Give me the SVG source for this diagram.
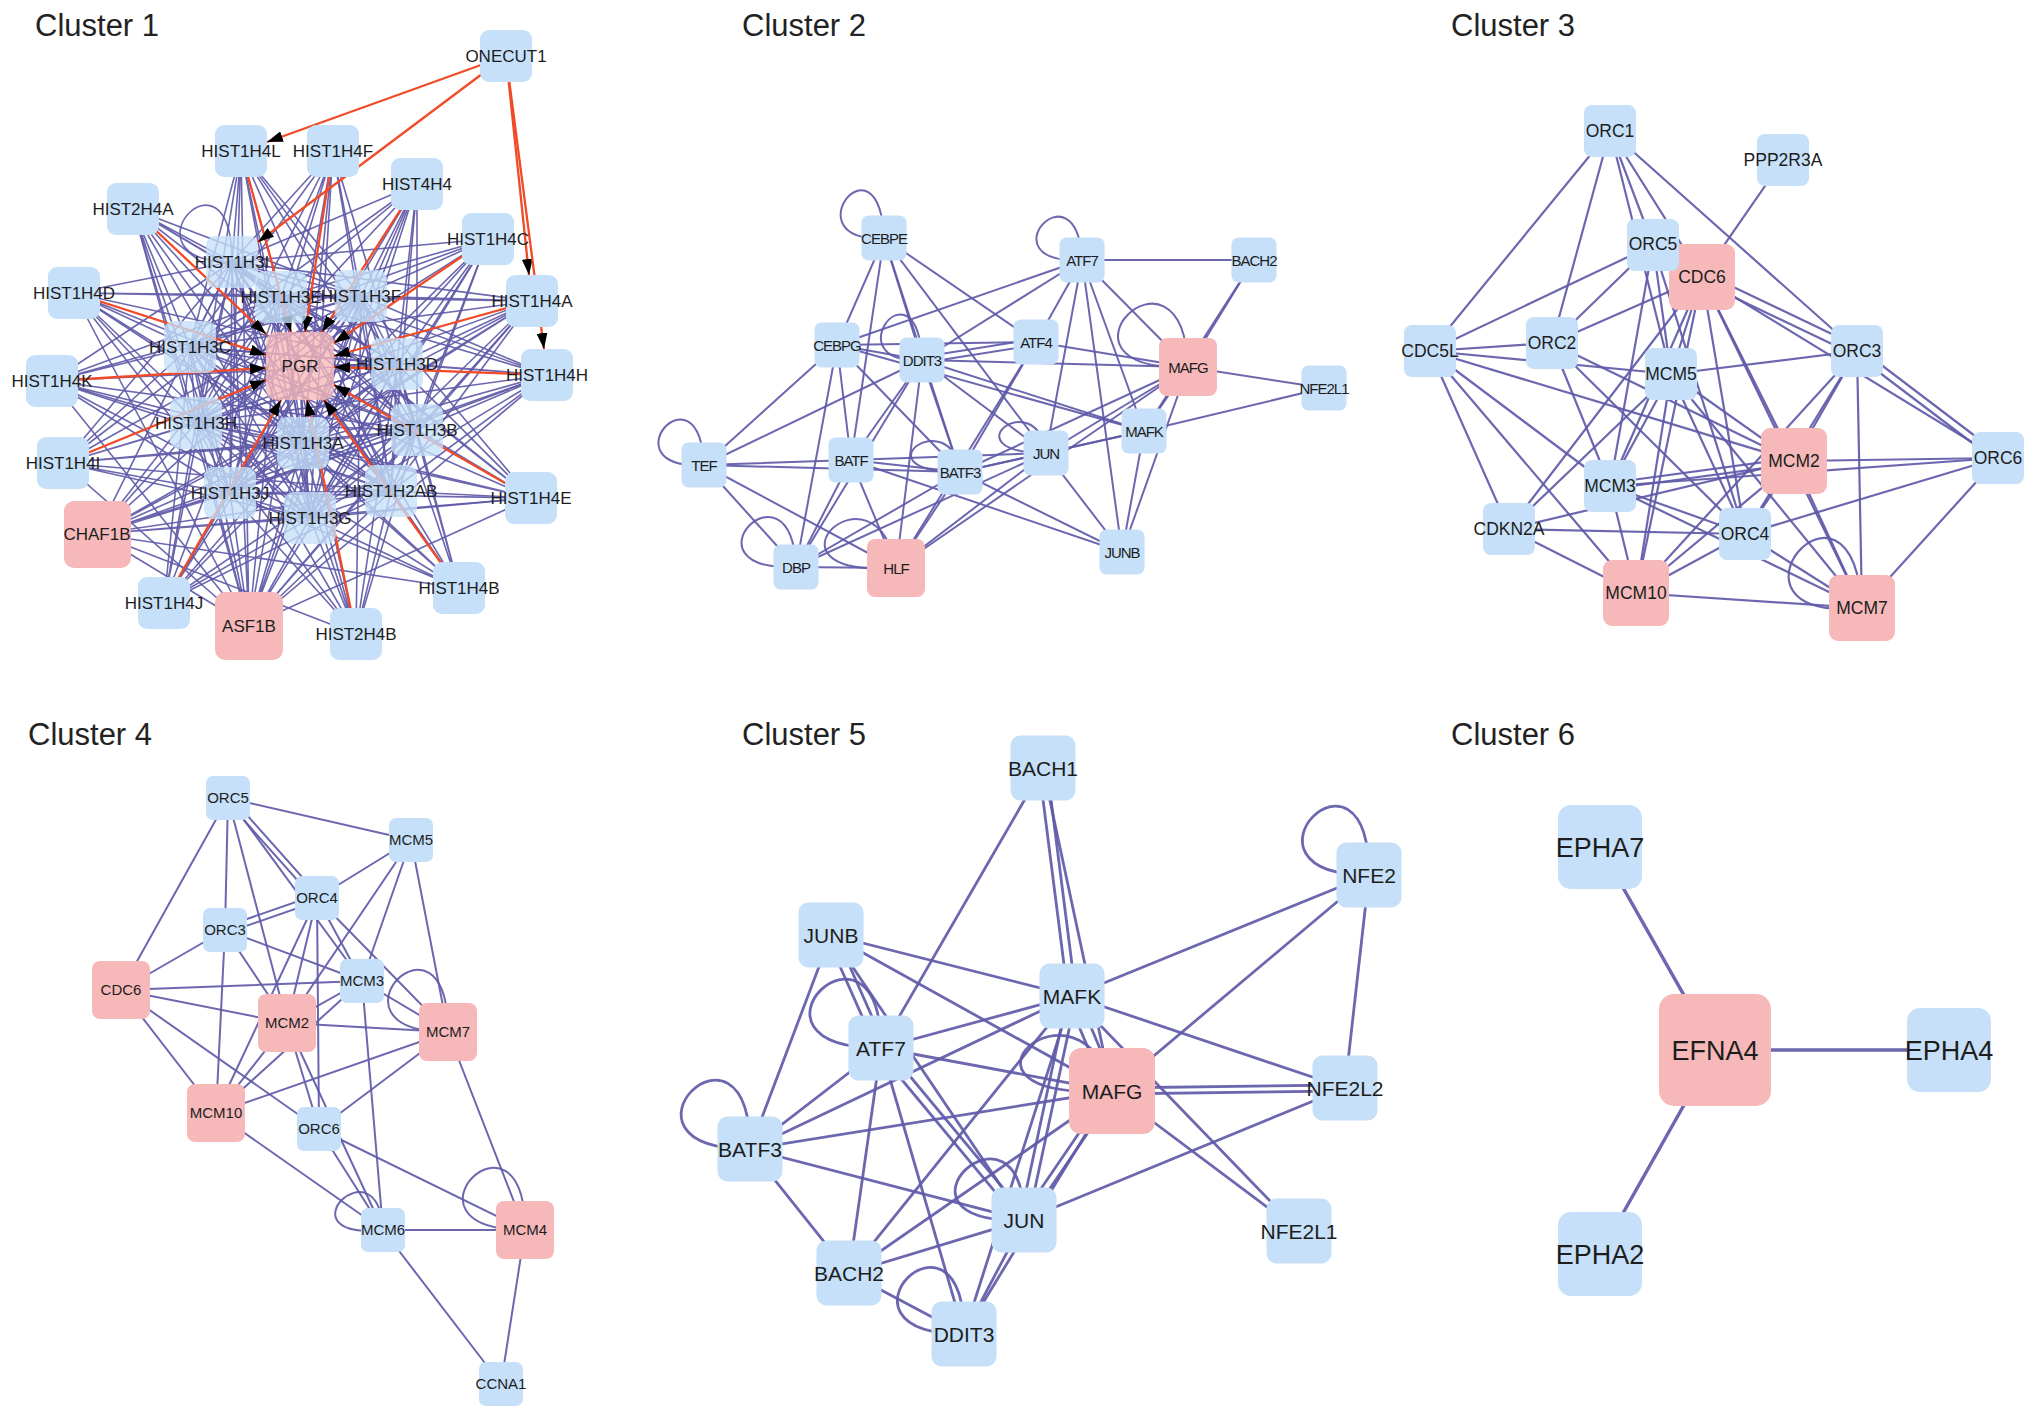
<svg xmlns="http://www.w3.org/2000/svg" width="2032" height="1419" viewBox="0 0 2032 1419">
<style>
text{font-family:"Liberation Sans",Arial,sans-serif;fill:#1d1d1d;text-anchor:middle}
.title{font-size:31px;text-anchor:start;fill:#222}
.b{fill:#c5e0f8}.r{fill:#f6b8b9}.t{fill-opacity:.78}
.e line,.e path{stroke:#5f5aa8;stroke-opacity:.92;fill:none;stroke-linecap:round}
.e1 path,.e1 line{stroke-width:1.6}
.e2 line,.e2 path{stroke-width:2}
.e3 line,.e3 path{stroke-width:2.2}
.e4 line,.e4 path{stroke-width:2}
.e5 line,.e5 path{stroke-width:2.8}
.e6 line{stroke-width:3.5}
.e line.red{stroke:#f24a26;stroke-width:2.3;stroke-opacity:1}
.l1{font-size:17px}.l2{font-size:15px;letter-spacing:-1px}.l3{font-size:17.5px}.l4{font-size:15px}.l5{font-size:21px}.l6{font-size:27px}
</style>
<defs>
<marker id="ah" viewBox="0 0 16 11" markerWidth="16" markerHeight="11" refX="16" refY="5.5" orient="auto" markerUnits="userSpaceOnUse"><path d="M0,0L16,5.5L0,11z" fill="#000"/></marker>
</defs>
<rect width="2032" height="1419" fill="#fff"/>
<g id="titles">
<text class="title" x="35" y="36">Cluster 1</text>
<text class="title" x="742" y="36">Cluster 2</text>
<text class="title" x="1451" y="36">Cluster 3</text>
<text class="title" x="28" y="745">Cluster 4</text>
<text class="title" x="742" y="745">Cluster 5</text>
<text class="title" x="1451" y="745">Cluster 6</text>
</g>
<g id="connectors" class="e">
<g id="c1-edges" class="e1">
<path d="M232 262L281 297M232 262L361 296M232 262L190 347M232 262L397 364M232 262L196 423M232 262L417 430M232 262L303 443M232 262L230 493M232 262L310 518M281 297L361 296M281 297L190 347M281 297L397 364M281 297L196 423M281 297L417 430M281 297L303 443M281 297L230 493M281 297L310 518M361 296L190 347M361 296L397 364M361 296L196 423M361 296L417 430M361 296L303 443M361 296L230 493M361 296L310 518M190 347L397 364M190 347L196 423M190 347L417 430M190 347L303 443M190 347L230 493M190 347L310 518M397 364L196 423M397 364L417 430M397 364L303 443M397 364L230 493M397 364L310 518M196 423L417 430M196 423L303 443M196 423L230 493M196 423L310 518M417 430L303 443M417 430L230 493M417 430L310 518M303 443L230 493M303 443L310 518M230 493L310 518"/>
<path d="M241 151L232 262M241 151L281 297M241 151L361 296M241 151L190 347M241 151L397 364M241 151L196 423M241 151L417 430M241 151L303 443M241 151L230 493M241 151L310 518"/>
<path d="M333 151L232 262M333 151L281 297M333 151L361 296M333 151L190 347M333 151L397 364M333 151L196 423M333 151L417 430M333 151L303 443M333 151L230 493M333 151L310 518"/>
<path d="M133 209L232 262M133 209L281 297M133 209L361 296M133 209L190 347M133 209L397 364M133 209L196 423M133 209L417 430M133 209L303 443M133 209L230 493M133 209L310 518"/>
<path d="M417 184L232 262M417 184L281 297M417 184L361 296M417 184L190 347M417 184L397 364M417 184L196 423M417 184L417 430M417 184L303 443M417 184L230 493M417 184L310 518"/>
<path d="M488 239L232 262M488 239L281 297M488 239L361 296M488 239L190 347M488 239L397 364M488 239L196 423M488 239L417 430M488 239L303 443M488 239L230 493M488 239L310 518"/>
<path d="M74 293L232 262M74 293L281 297M74 293L361 296M74 293L190 347M74 293L397 364M74 293L196 423M74 293L417 430M74 293L303 443M74 293L230 493M74 293L310 518"/>
<path d="M532 301L232 262M532 301L281 297M532 301L361 296M532 301L190 347M532 301L397 364M532 301L196 423M532 301L417 430M532 301L303 443M532 301L230 493M532 301L310 518"/>
<path d="M547 375L232 262M547 375L281 297M547 375L361 296M547 375L190 347M547 375L397 364M547 375L196 423M547 375L417 430M547 375L303 443M547 375L230 493M547 375L310 518"/>
<path d="M52 381L232 262M52 381L281 297M52 381L361 296M52 381L190 347M52 381L397 364M52 381L196 423M52 381L417 430M52 381L303 443M52 381L230 493M52 381L310 518"/>
<path d="M63 463L232 262M63 463L281 297M63 463L361 296M63 463L190 347M63 463L397 364M63 463L196 423M63 463L417 430M63 463L303 443M63 463L230 493M63 463L310 518"/>
<path d="M531 498L232 262M531 498L281 297M531 498L361 296M531 498L190 347M531 498L397 364M531 498L196 423M531 498L417 430M531 498L303 443M531 498L230 493M531 498L310 518"/>
<path d="M459 588L232 262M459 588L281 297M459 588L361 296M459 588L190 347M459 588L397 364M459 588L196 423M459 588L417 430M459 588L303 443M459 588L230 493M459 588L310 518"/>
<path d="M164 603L232 262M164 603L281 297M164 603L361 296M164 603L190 347M164 603L397 364M164 603L196 423M164 603L417 430M164 603L303 443M164 603L230 493M164 603L310 518"/>
<path d="M356 634L232 262M356 634L281 297M356 634L361 296M356 634L190 347M356 634L397 364M356 634L196 423M356 634L417 430M356 634L303 443M356 634L230 493M356 634L310 518"/>
<path d="M391 491L232 262M391 491L281 297M391 491L361 296M391 491L190 347M391 491L397 364M391 491L196 423M391 491L417 430M391 491L303 443M391 491L230 493M391 491L310 518M391 491L241 151M391 491L333 151M391 491L133 209M391 491L417 184M391 491L488 239M391 491L74 293M391 491L532 301M391 491L547 375M391 491L52 381M391 491L63 463M391 491L531 498M391 491L459 588M391 491L164 603M391 491L356 634"/>
<path d="M97 534L232 262M97 534L281 297M97 534L361 296M97 534L190 347M97 534L397 364M97 534L196 423M97 534L417 430M97 534L303 443M97 534L230 493M97 534L310 518M97 534L531 498M97 534L547 375M97 534L459 588M97 534L356 634M97 534L532 301M97 534L391 491M97 534L249 626"/>
<path d="M249 626L232 262M249 626L281 297M249 626L361 296M249 626L190 347M249 626L397 364M249 626L196 423M249 626L417 430M249 626L303 443M249 626L230 493M249 626L310 518M249 626L241 151M249 626L333 151M249 626L133 209M249 626L417 184M249 626L488 239M249 626L74 293M249 626L532 301M249 626L547 375M249 626L52 381M249 626L63 463M249 626L531 498M249 626L391 491"/>
<path d="M232 262c-117 0 0-128 0 0"/>
<line x1="232" y1="262" x2="278" y2="332"/>
<line x1="281" y1="297" x2="291" y2="332"/>
<line x1="361" y1="296" x2="330" y2="332"/>
<line x1="190" y1="347" x2="266" y2="360"/>
<line x1="397" y1="364" x2="334" y2="365"/>
<line x1="196" y1="423" x2="266" y2="385"/>
<line x1="417" y1="430" x2="334" y2="385"/>
<line x1="303" y1="443" x2="301" y2="400"/>
<line x1="230" y1="493" x2="281" y2="400"/>
<line x1="310" y1="518" x2="302" y2="400"/>
<line x1="391" y1="491" x2="325" y2="400"/>
<line class="red" x1="241" y1="151" x2="291" y2="332" marker-end="url(#ah)"/>
<line class="red" x1="333" y1="151" x2="305" y2="332" marker-end="url(#ah)"/>
<line class="red" x1="133" y1="209" x2="266" y2="334" marker-end="url(#ah)"/>
<line class="red" x1="417" y1="184" x2="322" y2="332" marker-end="url(#ah)"/>
<line class="red" x1="488" y1="239" x2="334" y2="343" marker-end="url(#ah)"/>
<line class="red" x1="74" y1="293" x2="266" y2="355" marker-end="url(#ah)"/>
<line class="red" x1="532" y1="301" x2="334" y2="356" marker-end="url(#ah)"/>
<line class="red" x1="547" y1="375" x2="334" y2="367" marker-end="url(#ah)"/>
<line class="red" x1="52" y1="381" x2="266" y2="368" marker-end="url(#ah)"/>
<line class="red" x1="63" y1="463" x2="266" y2="380" marker-end="url(#ah)"/>
<line class="red" x1="531" y1="498" x2="334" y2="385" marker-end="url(#ah)"/>
<line class="red" x1="459" y1="588" x2="324" y2="400" marker-end="url(#ah)"/>
<line class="red" x1="164" y1="603" x2="281" y2="400" marker-end="url(#ah)"/>
<line class="red" x1="356" y1="634" x2="307" y2="400" marker-end="url(#ah)"/>
<line class="red" x1="506" y1="56" x2="267" y2="142" marker-end="url(#ah)"/>
<line class="red" x1="506" y1="56" x2="258" y2="242" marker-end="url(#ah)"/>
<line class="red" x1="506" y1="56" x2="529" y2="275" marker-end="url(#ah)"/>
<line class="red" x1="506" y1="56" x2="544" y2="349" marker-end="url(#ah)"/>
</g>
<g id="c2-edges" class="e2">
<line x1="884" y1="238" x2="837" y2="345"/>
<line x1="884" y1="238" x2="922" y2="360"/>
<line x1="884" y1="238" x2="851" y2="460"/>
<line x1="884" y1="238" x2="960" y2="472"/>
<line x1="884" y1="238" x2="1036" y2="342"/>
<line x1="884" y1="238" x2="1046" y2="453"/>
<line x1="1082" y1="260" x2="1254" y2="260"/>
<line x1="1082" y1="260" x2="837" y2="345"/>
<line x1="1082" y1="260" x2="922" y2="360"/>
<line x1="1082" y1="260" x2="1036" y2="342"/>
<line x1="1082" y1="260" x2="1046" y2="453"/>
<line x1="1082" y1="260" x2="1144" y2="431"/>
<line x1="1082" y1="260" x2="1122" y2="552"/>
<line x1="1082" y1="260" x2="1188" y2="367"/>
<line x1="1254" y1="260" x2="1188" y2="367"/>
<line x1="1254" y1="260" x2="1144" y2="431"/>
<line x1="837" y1="345" x2="922" y2="360"/>
<line x1="837" y1="345" x2="1036" y2="342"/>
<line x1="837" y1="345" x2="704" y2="465"/>
<line x1="837" y1="345" x2="851" y2="460"/>
<line x1="837" y1="345" x2="796" y2="567"/>
<line x1="837" y1="345" x2="960" y2="472"/>
<line x1="837" y1="345" x2="1144" y2="431"/>
<line x1="922" y1="363" x2="1036" y2="345"/>
<line x1="922" y1="357" x2="1036" y2="339"/>
<line x1="922" y1="360" x2="1188" y2="367"/>
<line x1="922" y1="360" x2="1144" y2="431"/>
<line x1="922" y1="360" x2="851" y2="460"/>
<line x1="922" y1="360" x2="960" y2="472"/>
<line x1="922" y1="360" x2="896" y2="568"/>
<line x1="922" y1="360" x2="796" y2="567"/>
<line x1="922" y1="360" x2="704" y2="465"/>
<line x1="922" y1="360" x2="1046" y2="453"/>
<line x1="1036" y1="342" x2="1188" y2="367"/>
<line x1="1036" y1="342" x2="960" y2="472"/>
<line x1="1036" y1="342" x2="896" y2="568"/>
<line x1="1188" y1="367" x2="1324" y2="388"/>
<line x1="1188" y1="367" x2="1144" y2="431"/>
<line x1="1188" y1="367" x2="1046" y2="453"/>
<line x1="1188" y1="367" x2="960" y2="472"/>
<line x1="1188" y1="367" x2="1122" y2="552"/>
<line x1="1188" y1="367" x2="896" y2="568"/>
<line x1="1324" y1="388" x2="1144" y2="431"/>
<line x1="1144" y1="431" x2="1046" y2="453"/>
<line x1="1144" y1="431" x2="1122" y2="552"/>
<line x1="1144" y1="431" x2="960" y2="472"/>
<line x1="704" y1="465" x2="851" y2="460"/>
<line x1="704" y1="465" x2="960" y2="472"/>
<line x1="704" y1="465" x2="796" y2="567"/>
<line x1="704" y1="465" x2="896" y2="568"/>
<line x1="851" y1="460" x2="960" y2="472"/>
<line x1="851" y1="460" x2="1046" y2="453"/>
<line x1="851" y1="460" x2="1122" y2="552"/>
<line x1="851" y1="460" x2="896" y2="568"/>
<line x1="851" y1="460" x2="796" y2="567"/>
<line x1="960" y1="472" x2="1046" y2="453"/>
<line x1="960" y1="472" x2="896" y2="568"/>
<line x1="960" y1="472" x2="796" y2="567"/>
<line x1="960" y1="472" x2="1122" y2="552"/>
<line x1="1046" y1="453" x2="1122" y2="552"/>
<line x1="1046" y1="453" x2="896" y2="568"/>
<line x1="1046" y1="453" x2="796" y2="567"/>
<line x1="796" y1="567" x2="896" y2="568"/>
<path d="M884 238c-95 5-5-110 0 0"/>
<path d="M1082 260c-100 5-5-100 0 0"/>
<path d="M704 465c-100 5-5-105 0 0"/>
<path d="M1188 367c-155 5-5-145 0 0"/>
<path d="M922 360c-90 5-5-105 0 0"/>
<path d="M796 567c-120 5-5-115 0 0"/>
<path d="M960 472c-105 0-10-70 0 0"/>
<path d="M1046 453c-100 0-10-70 0 0"/>
<path d="M896 568c-150 10-20-115 0 0"/>
</g>
<g id="c3-edges" class="e3">
<line x1="1610" y1="131" x2="1430" y2="351"/>
<line x1="1610" y1="131" x2="1552" y2="343"/>
<line x1="1610" y1="131" x2="1653" y2="245"/>
<line x1="1610" y1="131" x2="1671" y2="374"/>
<line x1="1610" y1="131" x2="1702" y2="277"/>
<line x1="1610" y1="131" x2="1857" y2="351"/>
<line x1="1783" y1="160" x2="1702" y2="277"/>
<line x1="1653" y1="245" x2="1430" y2="351"/>
<line x1="1653" y1="245" x2="1552" y2="343"/>
<line x1="1653" y1="245" x2="1671" y2="374"/>
<line x1="1653" y1="245" x2="1610" y2="486"/>
<line x1="1653" y1="245" x2="1745" y2="534"/>
<line x1="1702" y1="277" x2="1552" y2="343"/>
<line x1="1702" y1="277" x2="1671" y2="374"/>
<line x1="1702" y1="277" x2="1610" y2="486"/>
<line x1="1702" y1="277" x2="1509" y2="529"/>
<line x1="1702" y1="277" x2="1636" y2="593"/>
<line x1="1702" y1="277" x2="1794" y2="461"/>
<line x1="1702" y1="277" x2="1862" y2="608"/>
<line x1="1700" y1="281" x2="1855" y2="355"/>
<line x1="1704" y1="273" x2="1859" y2="347"/>
<line x1="1702" y1="277" x2="1998" y2="458"/>
<line x1="1702" y1="277" x2="1745" y2="534"/>
<line x1="1430" y1="351" x2="1552" y2="343"/>
<line x1="1430" y1="351" x2="1671" y2="374"/>
<line x1="1430" y1="351" x2="1794" y2="461"/>
<line x1="1430" y1="351" x2="1610" y2="486"/>
<line x1="1430" y1="351" x2="1509" y2="529"/>
<line x1="1430" y1="351" x2="1636" y2="593"/>
<line x1="1552" y1="343" x2="1610" y2="486"/>
<line x1="1552" y1="343" x2="1794" y2="461"/>
<line x1="1552" y1="343" x2="1745" y2="534"/>
<line x1="1671" y1="374" x2="1857" y2="351"/>
<line x1="1671" y1="374" x2="1610" y2="486"/>
<line x1="1671" y1="374" x2="1509" y2="529"/>
<line x1="1671" y1="374" x2="1636" y2="593"/>
<line x1="1671" y1="374" x2="1745" y2="534"/>
<line x1="1671" y1="374" x2="1862" y2="608"/>
<line x1="1671" y1="374" x2="1794" y2="461"/>
<line x1="1857" y1="351" x2="1794" y2="461"/>
<line x1="1857" y1="351" x2="1636" y2="593"/>
<line x1="1857" y1="351" x2="1745" y2="534"/>
<line x1="1857" y1="351" x2="1862" y2="608"/>
<line x1="1855" y1="354" x2="1996" y2="461"/>
<line x1="1859" y1="348" x2="2000" y2="455"/>
<line x1="1998" y1="458" x2="1794" y2="461"/>
<line x1="1998" y1="458" x2="1610" y2="486"/>
<line x1="1998" y1="458" x2="1745" y2="534"/>
<line x1="1998" y1="458" x2="1862" y2="608"/>
<line x1="1794" y1="464" x2="1610" y2="489"/>
<line x1="1794" y1="458" x2="1610" y2="483"/>
<line x1="1794" y1="461" x2="1509" y2="529"/>
<line x1="1794" y1="461" x2="1636" y2="593"/>
<line x1="1794" y1="461" x2="1745" y2="534"/>
<line x1="1794" y1="461" x2="1862" y2="608"/>
<line x1="1610" y1="486" x2="1745" y2="534"/>
<line x1="1610" y1="486" x2="1636" y2="593"/>
<line x1="1610" y1="486" x2="1862" y2="608"/>
<line x1="1509" y1="529" x2="1745" y2="534"/>
<line x1="1509" y1="529" x2="1636" y2="593"/>
<line x1="1745" y1="534" x2="1636" y2="593"/>
<line x1="1745" y1="534" x2="1862" y2="608"/>
<line x1="1636" y1="593" x2="1862" y2="608"/>
<path d="M1862 608c-160 15-10-165 0 0"/>
</g>
<g id="c4-edges" class="e4">
<line x1="228" y1="798" x2="411" y2="840"/>
<line x1="228" y1="798" x2="121" y2="990"/>
<line x1="228" y1="798" x2="225" y2="930"/>
<line x1="228" y1="798" x2="287" y2="1023"/>
<line x1="226" y1="800" x2="315" y2="900"/>
<line x1="230" y1="796" x2="319" y2="896"/>
<line x1="228" y1="798" x2="362" y2="981"/>
<line x1="411" y1="840" x2="317" y2="898"/>
<line x1="411" y1="840" x2="287" y2="1023"/>
<line x1="411" y1="840" x2="362" y2="981"/>
<line x1="411" y1="840" x2="448" y2="1032"/>
<line x1="318" y1="901" x2="226" y2="933"/>
<line x1="316" y1="895" x2="224" y2="927"/>
<line x1="317" y1="898" x2="287" y2="1023"/>
<line x1="317" y1="898" x2="319" y2="1129"/>
<line x1="317" y1="898" x2="362" y2="981"/>
<line x1="317" y1="898" x2="448" y2="1032"/>
<line x1="317" y1="898" x2="216" y2="1113"/>
<line x1="225" y1="930" x2="121" y2="990"/>
<line x1="225" y1="930" x2="216" y2="1113"/>
<line x1="225" y1="930" x2="287" y2="1023"/>
<line x1="225" y1="930" x2="362" y2="981"/>
<line x1="121" y1="990" x2="362" y2="981"/>
<line x1="121" y1="990" x2="287" y2="1023"/>
<line x1="121" y1="990" x2="216" y2="1113"/>
<line x1="121" y1="990" x2="319" y2="1129"/>
<line x1="362" y1="981" x2="287" y2="1023"/>
<line x1="362" y1="981" x2="216" y2="1113"/>
<line x1="362" y1="981" x2="448" y2="1032"/>
<line x1="362" y1="981" x2="383" y2="1230"/>
<line x1="287" y1="1023" x2="448" y2="1032"/>
<line x1="287" y1="1023" x2="216" y2="1113"/>
<line x1="287" y1="1023" x2="319" y2="1129"/>
<line x1="287" y1="1023" x2="383" y2="1230"/>
<line x1="448" y1="1032" x2="216" y2="1113"/>
<line x1="448" y1="1032" x2="319" y2="1129"/>
<line x1="448" y1="1032" x2="525" y2="1230"/>
<line x1="216" y1="1113" x2="383" y2="1230"/>
<line x1="319" y1="1129" x2="383" y2="1230"/>
<line x1="319" y1="1129" x2="525" y2="1230"/>
<line x1="383" y1="1230" x2="525" y2="1230"/>
<line x1="383" y1="1230" x2="501" y2="1384"/>
<line x1="525" y1="1230" x2="501" y2="1384"/>
<path d="M448 1032c-135 0 0-140 0 0"/>
<path d="M383 1230c-105 10-5-90 0 0"/>
<path d="M525 1230c-140 0 0-140 0 0"/>
</g>
<g id="c5-edges" class="e5">
<line x1="1043" y1="768" x2="881" y2="1048"/>
<line x1="1039" y1="768" x2="1068" y2="996"/>
<line x1="1047" y1="768" x2="1076" y2="996"/>
<line x1="1043" y1="768" x2="1112" y2="1091"/>
<line x1="1369" y1="875" x2="1072" y2="996"/>
<line x1="1369" y1="875" x2="1112" y2="1091"/>
<line x1="1369" y1="875" x2="1345" y2="1088"/>
<line x1="831" y1="935" x2="1072" y2="996"/>
<line x1="831" y1="935" x2="1112" y2="1091"/>
<line x1="827" y1="937" x2="877" y2="1050"/>
<line x1="835" y1="933" x2="885" y2="1046"/>
<line x1="831" y1="935" x2="750" y2="1149"/>
<line x1="831" y1="935" x2="1024" y2="1220"/>
<line x1="1072" y1="996" x2="881" y2="1048"/>
<line x1="1072" y1="996" x2="750" y2="1149"/>
<line x1="1072" y1="996" x2="1345" y2="1088"/>
<line x1="1067" y1="998" x2="1107" y2="1093"/>
<line x1="1077" y1="994" x2="1117" y2="1089"/>
<line x1="1068" y1="995" x2="1020" y2="1219"/>
<line x1="1076" y1="997" x2="1028" y2="1221"/>
<line x1="1072" y1="996" x2="849" y2="1273"/>
<line x1="1072" y1="996" x2="964" y2="1334"/>
<line x1="1072" y1="996" x2="1299" y2="1231"/>
<line x1="881" y1="1048" x2="1112" y2="1091"/>
<line x1="881" y1="1048" x2="750" y2="1149"/>
<line x1="878" y1="1051" x2="1021" y2="1223"/>
<line x1="884" y1="1045" x2="1027" y2="1217"/>
<line x1="881" y1="1048" x2="849" y2="1273"/>
<line x1="881" y1="1048" x2="964" y2="1334"/>
<line x1="1112" y1="1091" x2="750" y2="1149"/>
<line x1="1112" y1="1088" x2="1345" y2="1085"/>
<line x1="1112" y1="1094" x2="1345" y2="1091"/>
<line x1="1109" y1="1089" x2="1021" y2="1218"/>
<line x1="1115" y1="1093" x2="1027" y2="1222"/>
<line x1="1112" y1="1091" x2="1299" y2="1231"/>
<line x1="1112" y1="1091" x2="849" y2="1273"/>
<line x1="1112" y1="1091" x2="964" y2="1334"/>
<line x1="1345" y1="1088" x2="1024" y2="1220"/>
<line x1="750" y1="1149" x2="1024" y2="1220"/>
<line x1="750" y1="1149" x2="849" y2="1273"/>
<line x1="1024" y1="1220" x2="849" y2="1273"/>
<line x1="1024" y1="1220" x2="964" y2="1334"/>
<line x1="849" y1="1273" x2="964" y2="1334"/>
<path d="M1369 875c-150 0 0-155 0 0"/>
<path d="M881 1048c-160 0 0-155 0 0"/>
<path d="M750 1149c-155 0 0-155 0 0"/>
<path d="M1024 1220c-155 5 0-140 0 0"/>
<path d="M964 1334c-150 0 0-150 0 0"/>
<path d="M1112 1091c-190 10-30-130 0 0"/>
</g>
<g id="c6-edges" class="e6">
<line x1="1600" y1="847" x2="1715" y2="1050"/>
<line x1="1715" y1="1050" x2="1949" y2="1050"/>
<line x1="1715" y1="1050" x2="1600" y2="1254"/>
</g>
</g>
<g id="c1-nodes">
<g id="c1-ONECUT1"><rect class="b" x="480" y="30" width="52" height="52" rx="9"/><text class="l1" x="506" y="62">ONECUT1</text></g>
<g id="c1-HIST1H4L"><rect class="b" x="215" y="125" width="52" height="52" rx="9"/><text class="l1" x="241" y="157">HIST1H4L</text></g>
<g id="c1-HIST1H4F"><rect class="b" x="307" y="125" width="52" height="52" rx="9"/><text class="l1" x="333" y="157">HIST1H4F</text></g>
<g id="c1-HIST2H4A"><rect class="b" x="107" y="183" width="52" height="52" rx="9"/><text class="l1" x="133" y="215">HIST2H4A</text></g>
<g id="c1-HIST4H4"><rect class="b" x="391" y="158" width="52" height="52" rx="9"/><text class="l1" x="417" y="190">HIST4H4</text></g>
<g id="c1-HIST1H4C"><rect class="b" x="462" y="213" width="52" height="52" rx="9"/><text class="l1" x="488" y="245">HIST1H4C</text></g>
<g id="c1-HIST1H4D"><rect class="b" x="48" y="267" width="52" height="52" rx="9"/><text class="l1" x="74" y="299">HIST1H4D</text></g>
<g id="c1-HIST1H4A"><rect class="b" x="506" y="275" width="52" height="52" rx="9"/><text class="l1" x="532" y="307">HIST1H4A</text></g>
<g id="c1-HIST1H4H"><rect class="b" x="521" y="349" width="52" height="52" rx="9"/><text class="l1" x="547" y="381">HIST1H4H</text></g>
<g id="c1-HIST1H4K"><rect class="b" x="26" y="355" width="52" height="52" rx="9"/><text class="l1" x="52" y="387">HIST1H4K</text></g>
<g id="c1-HIST1H4I"><rect class="b" x="37" y="437" width="52" height="52" rx="9"/><text class="l1" x="63" y="469">HIST1H4I</text></g>
<g id="c1-HIST1H4E"><rect class="b" x="505" y="472" width="52" height="52" rx="9"/><text class="l1" x="531" y="504">HIST1H4E</text></g>
<g id="c1-CHAF1B"><rect class="r" x="64" y="501" width="67" height="67" rx="10"/><text class="l1" x="97" y="540">CHAF1B</text></g>
<g id="c1-HIST1H4B"><rect class="b" x="433" y="562" width="52" height="52" rx="9"/><text class="l1" x="459" y="594">HIST1H4B</text></g>
<g id="c1-HIST1H4J"><rect class="b" x="138" y="577" width="52" height="52" rx="9"/><text class="l1" x="164" y="609">HIST1H4J</text></g>
<g id="c1-ASF1B"><rect class="r" x="215" y="592" width="68" height="68" rx="10"/><text class="l1" x="249" y="632">ASF1B</text></g>
<g id="c1-HIST2H4B"><rect class="b" x="330" y="608" width="52" height="52" rx="9"/><text class="l1" x="356" y="640">HIST2H4B</text></g>
<g id="c1-PGR"><rect class="r t" x="266" y="332" width="68" height="68" rx="10"/><text class="l1" x="300" y="372">PGR</text></g>
<g id="c1-HIST1H3I"><rect class="b t" x="206" y="236" width="52" height="52" rx="9"/><text class="l1" x="232" y="268">HIST1H3I</text></g>
<g id="c1-HIST1H3E"><rect class="b t" x="255" y="271" width="52" height="52" rx="9"/><text class="l1" x="281" y="303">HIST1H3E</text></g>
<g id="c1-HIST1H3F"><rect class="b t" x="335" y="270" width="52" height="52" rx="9"/><text class="l1" x="361" y="302">HIST1H3F</text></g>
<g id="c1-HIST1H3C"><rect class="b t" x="164" y="321" width="52" height="52" rx="9"/><text class="l1" x="190" y="353">HIST1H3C</text></g>
<g id="c1-HIST1H3D"><rect class="b t" x="371" y="338" width="52" height="52" rx="9"/><text class="l1" x="397" y="370">HIST1H3D</text></g>
<g id="c1-HIST1H3H"><rect class="b t" x="170" y="397" width="52" height="52" rx="9"/><text class="l1" x="196" y="429">HIST1H3H</text></g>
<g id="c1-HIST1H3B"><rect class="b t" x="391" y="404" width="52" height="52" rx="9"/><text class="l1" x="417" y="436">HIST1H3B</text></g>
<g id="c1-HIST1H3A"><rect class="b t" x="277" y="417" width="52" height="52" rx="9"/><text class="l1" x="303" y="449">HIST1H3A</text></g>
<g id="c1-HIST1H3J"><rect class="b t" x="204" y="467" width="52" height="52" rx="9"/><text class="l1" x="230" y="499">HIST1H3J</text></g>
<g id="c1-HIST1H2AB"><rect class="b t" x="365" y="465" width="52" height="52" rx="9"/><text class="l1" x="391" y="497">HIST1H2AB</text></g>
<g id="c1-HIST1H3G"><rect class="b t" x="284" y="492" width="52" height="52" rx="9"/><text class="l1" x="310" y="524">HIST1H3G</text></g>
</g>
<g id="c2-nodes">
<g id="c2-CEBPE"><rect class="b" x="861.5" y="215.5" width="45" height="45" rx="7"/><text class="l2" x="884" y="243.5">CEBPE</text></g>
<g id="c2-ATF7"><rect class="b" x="1059.5" y="237.5" width="45" height="45" rx="7"/><text class="l2" x="1082" y="265.5">ATF7</text></g>
<g id="c2-BACH2"><rect class="b" x="1231.5" y="237.5" width="45" height="45" rx="7"/><text class="l2" x="1254" y="265.5">BACH2</text></g>
<g id="c2-CEBPG"><rect class="b" x="814.5" y="322.5" width="45" height="45" rx="7"/><text class="l2" x="837" y="350.5">CEBPG</text></g>
<g id="c2-DDIT3"><rect class="b" x="899.5" y="337.5" width="45" height="45" rx="7"/><text class="l2" x="922" y="365.5">DDIT3</text></g>
<g id="c2-ATF4"><rect class="b" x="1013.5" y="319.5" width="45" height="45" rx="7"/><text class="l2" x="1036" y="347.5">ATF4</text></g>
<g id="c2-MAFG"><rect class="r" x="1159" y="338" width="58" height="58" rx="8"/><text class="l2" x="1188" y="372.5">MAFG</text></g>
<g id="c2-NFE2L1"><rect class="b" x="1301.5" y="365.5" width="45" height="45" rx="7"/><text class="l2" x="1324" y="393.5">NFE2L1</text></g>
<g id="c2-MAFK"><rect class="b" x="1121.5" y="408.5" width="45" height="45" rx="7"/><text class="l2" x="1144" y="436.5">MAFK</text></g>
<g id="c2-TEF"><rect class="b" x="681.5" y="442.5" width="45" height="45" rx="7"/><text class="l2" x="704" y="470.5">TEF</text></g>
<g id="c2-BATF"><rect class="b" x="828.5" y="437.5" width="45" height="45" rx="7"/><text class="l2" x="851" y="465.5">BATF</text></g>
<g id="c2-BATF3"><rect class="b" x="937.5" y="449.5" width="45" height="45" rx="7"/><text class="l2" x="960" y="477.5">BATF3</text></g>
<g id="c2-JUN"><rect class="b" x="1023.5" y="430.5" width="45" height="45" rx="7"/><text class="l2" x="1046" y="458.5">JUN</text></g>
<g id="c2-JUNB"><rect class="b" x="1099.5" y="529.5" width="45" height="45" rx="7"/><text class="l2" x="1122" y="557.5">JUNB</text></g>
<g id="c2-DBP"><rect class="b" x="773.5" y="544.5" width="45" height="45" rx="7"/><text class="l2" x="796" y="572.5">DBP</text></g>
<g id="c2-HLF"><rect class="r" x="867" y="539" width="58" height="58" rx="8"/><text class="l2" x="896" y="573.5">HLF</text></g>
</g>
<g id="c3-nodes">
<g id="c3-ORC1"><rect class="b" x="1584" y="105" width="52" height="52" rx="8"/><text class="l3" x="1610" y="137.3">ORC1</text></g>
<g id="c3-PPP2R3A"><rect class="b" x="1757" y="134" width="52" height="52" rx="8"/><text class="l3" x="1783" y="166.3">PPP2R3A</text></g>
<g id="c3-CDC6"><rect class="r" x="1669" y="244" width="66" height="66" rx="9"/><text class="l3" x="1702" y="283.3">CDC6</text></g>
<g id="c3-ORC5"><rect class="b" x="1627" y="219" width="52" height="52" rx="8"/><text class="l3" x="1653" y="250">ORC5</text></g>
<g id="c3-CDC5L"><rect class="b" x="1404" y="325" width="52" height="52" rx="8"/><text class="l3" x="1430" y="357.3">CDC5L</text></g>
<g id="c3-ORC2"><rect class="b" x="1526" y="317" width="52" height="52" rx="8"/><text class="l3" x="1552" y="349.3">ORC2</text></g>
<g id="c3-MCM5"><rect class="b" x="1645" y="348" width="52" height="52" rx="8"/><text class="l3" x="1671" y="380.3">MCM5</text></g>
<g id="c3-ORC3"><rect class="b" x="1831" y="325" width="52" height="52" rx="8"/><text class="l3" x="1857" y="357.3">ORC3</text></g>
<g id="c3-ORC6"><rect class="b" x="1972" y="432" width="52" height="52" rx="8"/><text class="l3" x="1998" y="464.3">ORC6</text></g>
<g id="c3-MCM2"><rect class="r" x="1761" y="428" width="66" height="66" rx="9"/><text class="l3" x="1794" y="467.3">MCM2</text></g>
<g id="c3-MCM3"><rect class="b" x="1584" y="460" width="52" height="52" rx="8"/><text class="l3" x="1610" y="492.3">MCM3</text></g>
<g id="c3-CDKN2A"><rect class="b" x="1483" y="503" width="52" height="52" rx="8"/><text class="l3" x="1509" y="535.3">CDKN2A</text></g>
<g id="c3-ORC4"><rect class="b" x="1719" y="508" width="52" height="52" rx="8"/><text class="l3" x="1745" y="540.3">ORC4</text></g>
<g id="c3-MCM10"><rect class="r" x="1603" y="560" width="66" height="66" rx="9"/><text class="l3" x="1636" y="599.3">MCM10</text></g>
<g id="c3-MCM7"><rect class="r" x="1829" y="575" width="66" height="66" rx="9"/><text class="l3" x="1862" y="614.3">MCM7</text></g>
</g>
<g id="c4-nodes">
<g id="c4-ORC5"><rect class="b" x="206" y="776" width="44" height="44" rx="7"/><text class="l4" x="228" y="803.4">ORC5</text></g>
<g id="c4-MCM5"><rect class="b" x="389" y="818" width="44" height="44" rx="7"/><text class="l4" x="411" y="845.4">MCM5</text></g>
<g id="c4-ORC4"><rect class="b" x="295" y="876" width="44" height="44" rx="7"/><text class="l4" x="317" y="903.4">ORC4</text></g>
<g id="c4-ORC3"><rect class="b" x="203" y="908" width="44" height="44" rx="7"/><text class="l4" x="225" y="935.4">ORC3</text></g>
<g id="c4-MCM3"><rect class="b" x="340" y="959" width="44" height="44" rx="7"/><text class="l4" x="362" y="986.4">MCM3</text></g>
<g id="c4-CDC6"><rect class="r" x="92" y="961" width="58" height="58" rx="8"/><text class="l4" x="121" y="995.4">CDC6</text></g>
<g id="c4-MCM2"><rect class="r" x="258" y="994" width="58" height="58" rx="8"/><text class="l4" x="287" y="1028.4">MCM2</text></g>
<g id="c4-MCM7"><rect class="r" x="419" y="1003" width="58" height="58" rx="8"/><text class="l4" x="448" y="1037.4">MCM7</text></g>
<g id="c4-MCM10"><rect class="r" x="187" y="1084" width="58" height="58" rx="8"/><text class="l4" x="216" y="1118.4">MCM10</text></g>
<g id="c4-ORC6"><rect class="b" x="297" y="1107" width="44" height="44" rx="7"/><text class="l4" x="319" y="1134.4">ORC6</text></g>
<g id="c4-MCM6"><rect class="b" x="361" y="1208" width="44" height="44" rx="7"/><text class="l4" x="383" y="1235.4">MCM6</text></g>
<g id="c4-MCM4"><rect class="r" x="496" y="1201" width="58" height="58" rx="8"/><text class="l4" x="525" y="1235.4">MCM4</text></g>
<g id="c4-CCNA1"><rect class="b" x="479" y="1362" width="44" height="44" rx="7"/><text class="l4" x="501" y="1389.4">CCNA1</text></g>
</g>
<g id="c5-nodes">
<g id="c5-BACH1"><rect class="b" x="1010.5" y="735.5" width="65" height="65" rx="10"/><text class="l5" x="1043" y="775.5">BACH1</text></g>
<g id="c5-NFE2"><rect class="b" x="1336.5" y="842.5" width="65" height="65" rx="10"/><text class="l5" x="1369" y="882.5">NFE2</text></g>
<g id="c5-JUNB"><rect class="b" x="798.5" y="902.5" width="65" height="65" rx="10"/><text class="l5" x="831" y="942.5">JUNB</text></g>
<g id="c5-MAFK"><rect class="b" x="1039.5" y="963.5" width="65" height="65" rx="10"/><text class="l5" x="1072" y="1003.5">MAFK</text></g>
<g id="c5-ATF7"><rect class="b" x="848.5" y="1015.5" width="65" height="65" rx="10"/><text class="l5" x="881" y="1055.5">ATF7</text></g>
<g id="c5-MAFG"><rect class="r" x="1069" y="1048" width="86" height="86" rx="12"/><text class="l5" x="1112" y="1098.5">MAFG</text></g>
<g id="c5-NFE2L2"><rect class="b" x="1312.5" y="1055.5" width="65" height="65" rx="10"/><text class="l5" x="1345" y="1095.5">NFE2L2</text></g>
<g id="c5-BATF3"><rect class="b" x="717.5" y="1116.5" width="65" height="65" rx="10"/><text class="l5" x="750" y="1156.5">BATF3</text></g>
<g id="c5-JUN"><rect class="b" x="991.5" y="1187.5" width="65" height="65" rx="10"/><text class="l5" x="1024" y="1227.5">JUN</text></g>
<g id="c5-NFE2L1"><rect class="b" x="1266.5" y="1198.5" width="65" height="65" rx="10"/><text class="l5" x="1299" y="1238.5">NFE2L1</text></g>
<g id="c5-BACH2"><rect class="b" x="816.5" y="1240.5" width="65" height="65" rx="10"/><text class="l5" x="849" y="1280.5">BACH2</text></g>
<g id="c5-DDIT3"><rect class="b" x="931.5" y="1301.5" width="65" height="65" rx="10"/><text class="l5" x="964" y="1341.5">DDIT3</text></g>
</g>
<g id="c6-nodes">
<g id="c6-EPHA7"><rect class="b" x="1558" y="805" width="84" height="84" rx="13"/><text class="l6" x="1600" y="856.7">EPHA7</text></g>
<g id="c6-EFNA4"><rect class="r" x="1659" y="994" width="112" height="112" rx="15"/><text class="l6" x="1715" y="1059.7">EFNA4</text></g>
<g id="c6-EPHA4"><rect class="b" x="1907" y="1008" width="84" height="84" rx="13"/><text class="l6" x="1949" y="1059.7">EPHA4</text></g>
<g id="c6-EPHA2"><rect class="b" x="1558" y="1212" width="84" height="84" rx="13"/><text class="l6" x="1600" y="1263.7">EPHA2</text></g>
</g>
</svg>
